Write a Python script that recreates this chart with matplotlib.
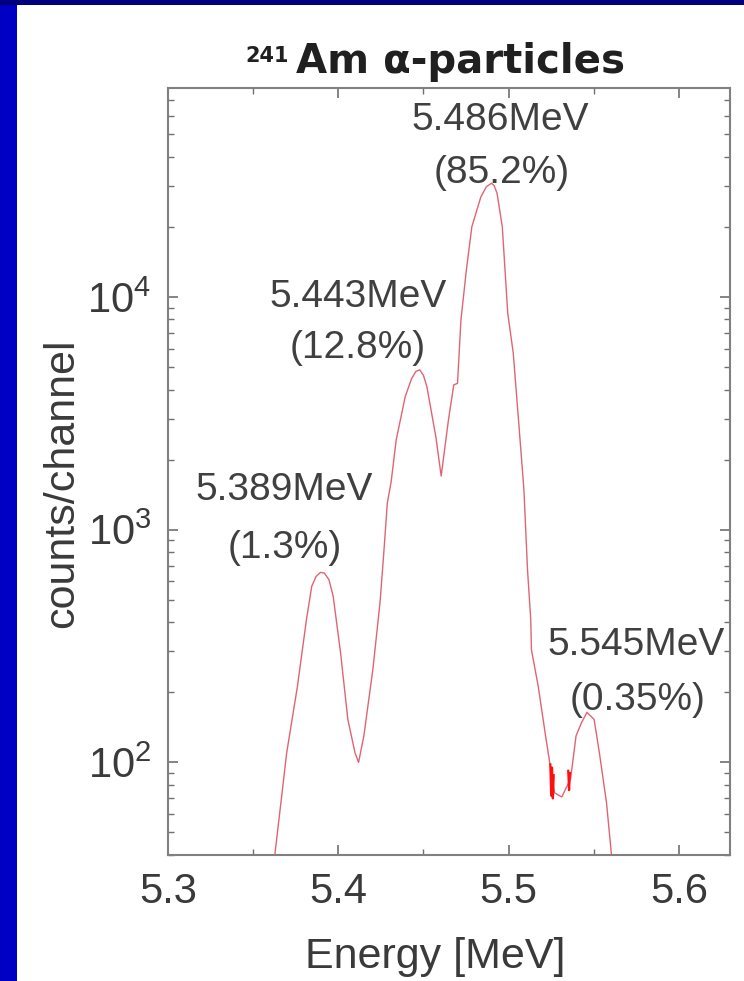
import matplotlib
matplotlib.use("Agg")
import matplotlib.pyplot as plt
from matplotlib.patches import Rectangle
from matplotlib.ticker import MultipleLocator

plt.rcParams['font.family'] = ['Liberation Sans', 'DejaVu Sans']
plt.rcParams['mathtext.default'] = 'regular'

# spectrum (energy in MeV, counts per channel)
energy = [5.362, 5.3697, 5.376, 5.3813, 5.3844, 5.3870, 5.3895, 5.3918, 5.3945,
          5.397, 5.4013, 5.4056, 5.4098, 5.4119, 5.415, 5.4203, 5.4245, 5.4267,
          5.4288, 5.431, 5.434, 5.4393, 5.4430, 5.4455, 5.4478, 5.4500, 5.452,
          5.4573, 5.4604, 5.4647, 5.4678, 5.4700, 5.472, 5.4752, 5.4784, 5.4837,
          5.4870, 5.490, 5.4915, 5.4932, 5.4963, 5.4995, 5.5027, 5.5058, 5.509,
          5.5111, 5.5130, 5.5134, 5.5174, 5.5217, 5.5248, 5.527, 5.5312, 5.5364,
          5.5396, 5.5428, 5.546, 5.5502, 5.5533, 5.5575, 5.561]
counts = [36, 110, 212, 411, 571, 630, 655, 651, 610,
          517, 297, 153, 110, 100, 130, 251, 486, 794,
          1305, 1600, 2430, 3730, 4450, 4780, 4860, 4600, 4120,
          2500, 1700, 2970, 4190, 4250, 7950, 13050, 20000, 26900,
          29800, 30800, 30100, 27900, 20000, 8500, 5760, 2970, 1480,
          673, 411, 305, 212, 130, 93, 74, 71, 85,
          130, 148, 164, 153, 110, 67, 36]

# a few noisy channels drawn in stronger red
noisy_energy = [5.5245, 5.5250, 5.5255, 5.5260, 5.5265]
noisy_counts = [98, 72, 95, 70, 88]
noisy_energy2 = [5.5350, 5.5355, 5.5360]
noisy_counts2 = [92, 76, 90]

peak_lines = ["5.486MeV", "(85.2%)", "5.443MeV", "(12.8%)",
              "5.389MeV", "(1.3%)", "5.545MeV", "(0.35%)"]
# label anchors in axes fraction
peak_pos = [(0.591, 0.958), (0.594, 0.889), (0.338, 0.728), (0.338, 0.661),
            (0.206, 0.476), (0.208, 0.400), (0.833, 0.274), (0.836, 0.202)]

W, H = 744, 981
fig = plt.figure(figsize=(W / 100, H / 100), dpi=100)
fig.patch.set_facecolor('#0000c4')
# white slide panel plus darker top band
fig.patches.append(Rectangle((0, 1 - 5 / H), 1, 5 / H, transform=fig.transFigure,
                             facecolor='#00007e', edgecolor='none', zorder=-2))
fig.patches.append(Rectangle((17 / W, 0), 1 - 17 / W, 1 - 5 / H, transform=fig.transFigure,
                             facecolor='white', edgecolor='none', zorder=-2))

ax = fig.add_axes([168 / W, 1 - 855 / H, (730 - 168) / W, (855 - 88) / H])
ax.set_zorder(2)
ax.set_facecolor('white')

ax.plot(energy, counts, color='#e06474', lw=1.0)
ax.plot(noisy_energy, noisy_counts, color='#ff1010', lw=1.6)
ax.plot(noisy_energy2, noisy_counts2, color='#ff1010', lw=1.6)

ax.set_yscale('log')
ax.set_xlim(5.3, 5.63)
ax.set_ylim(40, 79000)
ax.xaxis.set_major_locator(MultipleLocator(0.1))
ax.xaxis.set_minor_locator(MultipleLocator(0.05))

for sp in ax.spines.values():
    sp.set_color('#808080')
    sp.set_linewidth(1.5)

ax.tick_params(which='both', direction='in', top=True, right=True,
               colors='#707070', labelcolor='#3a3a3a')
ax.tick_params(which='major', length=7, width=1.2, labelsize=30, pad=12)
ax.tick_params(which='minor', length=4, width=1.0)

ax.set_xlabel("Energy [MeV]", fontsize=31, color='#3a3a3a')
ax.xaxis.set_label_coords(0.475, -0.133)
ax.xaxis.label.set_va('center')
ax.set_ylabel("counts/channel", fontsize=31, color='#3a3a3a')
ax.yaxis.set_label_coords(-0.189, 0.485)
ax.yaxis.label.set_va('center')

for txt, (px, py) in zip(peak_lines, peak_pos):
    ax.text(px, py, txt, transform=ax.transAxes, ha='center', va='center',
            fontsize=28, color='#404040')

fig.text(289 / W, 1 - 62 / H, "241", ha='right', va='baseline',
         fontsize=15, fontweight='bold', color='#202020',
         family=['DejaVu Sans'])
fig.text(296 / W, 1 - 73 / H, "Am α-particles", ha='left', va='baseline',
         fontsize=29, fontweight='bold', color='#202020',
         family=['DejaVu Sans'])

fig.savefig("out.png", dpi=100, facecolor=fig.get_facecolor())
